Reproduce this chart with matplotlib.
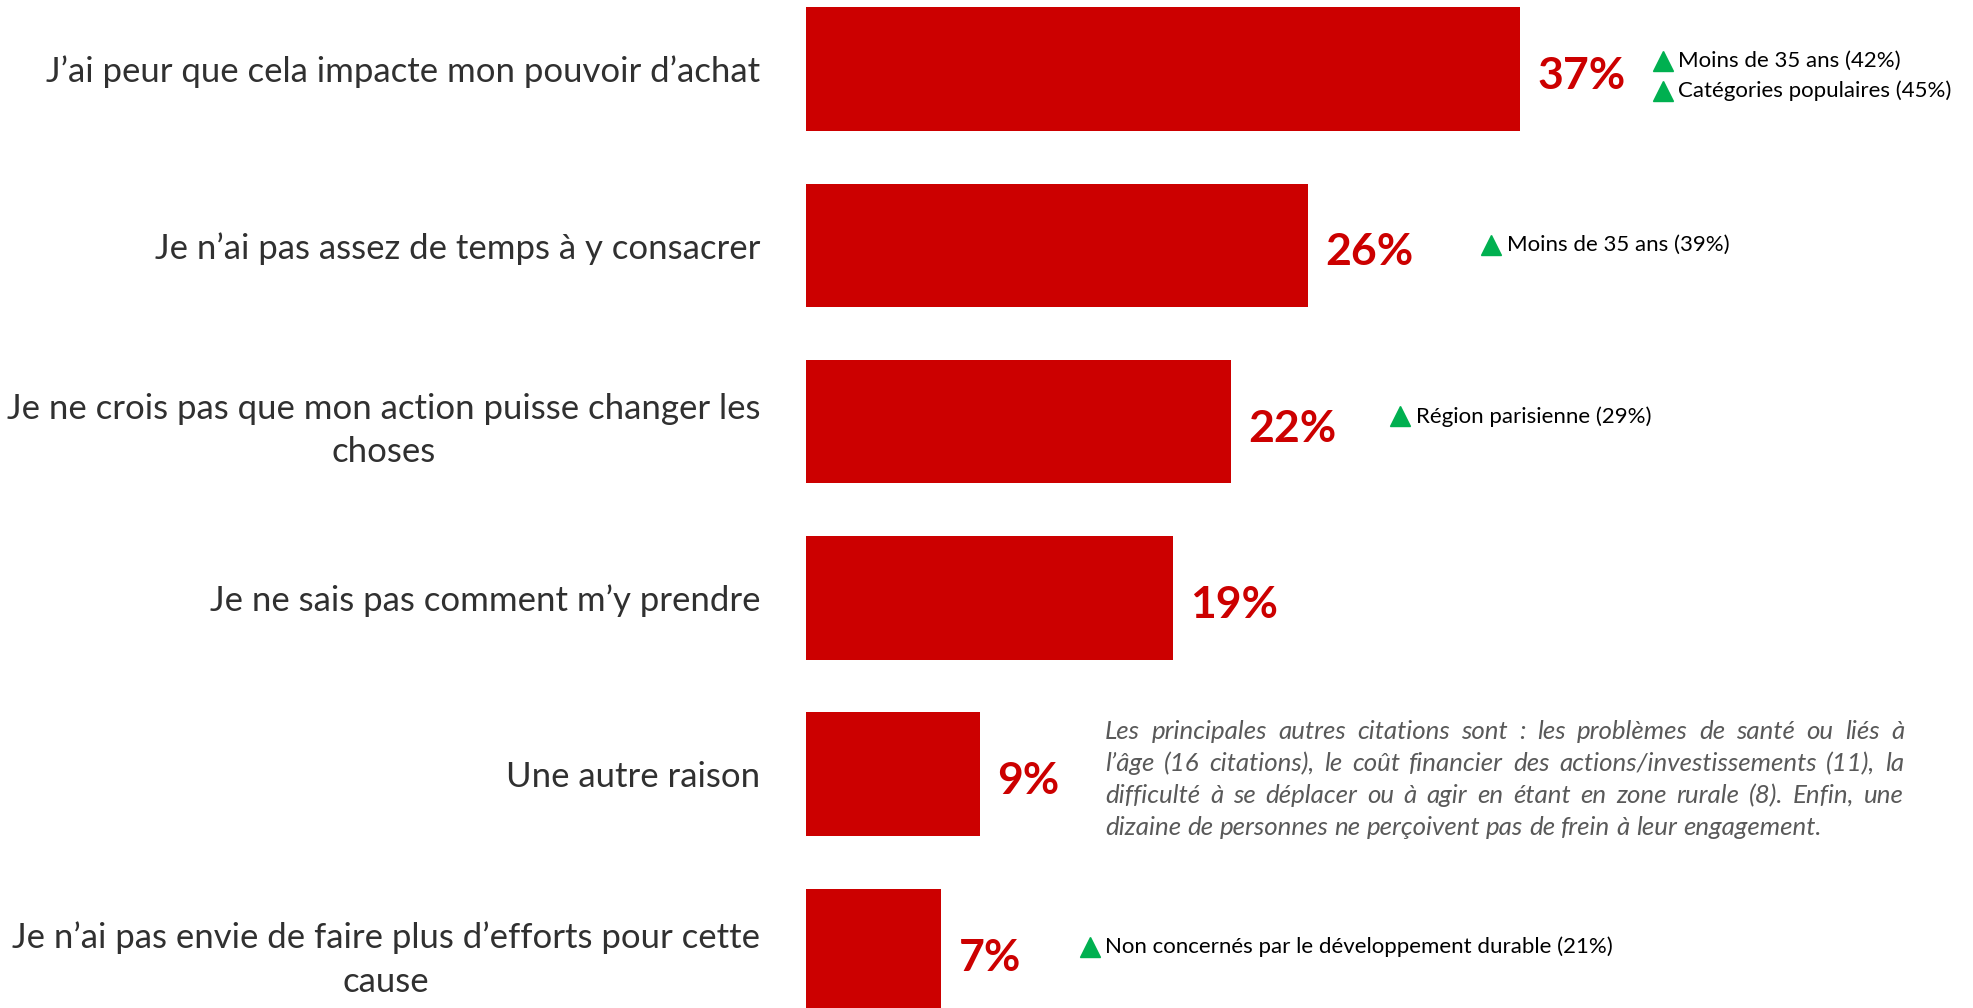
import matplotlib
matplotlib.use("Agg")
import matplotlib.pyplot as plt

# ---- data ----
categories = [
    "J\u2019ai peur que cela impacte mon pouvoir d\u2019achat",
    "Je n\u2019ai pas assez de temps \u00e0 y consacrer",
    "Je ne crois pas que mon action puisse changer les\nchoses",
    "Je ne sais pas comment m\u2019y prendre",
    "Une autre raison",
    "Je n\u2019ai pas envie de faire plus d\u2019efforts pour cette\ncause",
]
values = [37, 26, 22, 19, 9, 7]
value_labels = ["37%", "26%", "22%", "19%", "9%", "7%"]
highlights = [
    ["Moins de 35 ans (42%)", "Cat\u00e9gories populaires (45%)"],
    ["Moins de 35 ans (39%)"],
    ["R\u00e9gion parisienne (29%)"],
    [],
    [],
    ["Non concern\u00e9s par le d\u00e9veloppement durable (21%)"],
]
note_lines = [
    "Les principales autres citations sont : les probl\u00e8mes de sant\u00e9 ou li\u00e9s \u00e0",
    "l\u2019\u00e2ge (16 citations), le co\u00fbt financier des actions/investissements (11), la",
    "difficult\u00e9 \u00e0 se d\u00e9placer ou \u00e0 agir en \u00e9tant en zone rurale (8). Enfin, une",
    "dizaine de personnes ne per\u00e7oivent pas de frein \u00e0 leur engagement.",
]

# ---- layout / style ----
FONT = "Lato"
RED = "#CC0000"
GREEN = "#00B050"
TXT = "#303030"
NOTE_C = "#595959"
hl_x = [44.4, 35.5, 30.8, None, None, 14.7]
hl_dy = [[-0.045, 0.125], [0.0], [-0.03], [], [], [-0.02]]
note_row = 4
note_x = 15.5
note_w_px = 799
note_spacing_px = 32

W, H = 1974, 1008
fig = plt.figure(figsize=(W / 100, H / 100), dpi=100)
ax = fig.add_axes([806 / W, 0, 1158 / W, 1])
ypos = list(range(len(categories)))
ax.barh(ypos, values, height=0.7, color=RED)
ax.set_xlim(0, 60)
ax.set_ylim(5.326, -0.391)
ax.set_yticks(ypos)
ax.set_yticklabels(categories, fontsize=25, family=FONT, color=TXT,
                   multialignment="center", linespacing=1.45)
ax.tick_params(axis="y", length=0, pad=33)
ax.set_xticks([])
for s in ax.spines.values():
    s.set_visible(False)

for y, v, lab in zip(ypos, values, value_labels):
    ax.text(v + 0.9, y + 0.04, lab, ha="left", va="center", fontsize=32,
            fontweight="bold", color=RED, family=FONT)

for y, hx, items, dys in zip(ypos, hl_x, highlights, hl_dy):
    for txt, dy in zip(items, dys):
        ax.plot([hx], [y + dy], marker="^", ms=15, color=GREEN,
                ls="none", clip_on=False)
        ax.text(hx + 0.8, y + dy, txt, ha="left", va="center", fontsize=16,
                family=FONT, color="black")

# justified italic note
fig.canvas.draw()
r = fig.canvas.get_renderer()
x0 = ax.transData.transform((note_x, 0))[0]
yc = ax.transData.transform((0, note_row))[1] - 5
nfs = 18.6

def wwidth(s):
    t = fig.text(0, 0, s, fontsize=nfs, family=FONT, style="italic")
    w = t.get_window_extent(r).width
    t.remove()
    return w

space_w = wwidth("a a") - wwidth("aa")
n = len(note_lines)
for i, line in enumerate(note_lines):
    ly = yc + ((n - 1) / 2 - i) * note_spacing_px
    words = line.split(" ")
    widths = [wwidth(w) for w in words]
    if i < n - 1 and len(words) > 1:
        gap = (note_w_px - sum(widths)) / (len(words) - 1)
    else:
        gap = space_w
    x = x0
    for w, ww in zip(words, widths):
        fig.text(x / W, ly / H, w, fontsize=nfs, family=FONT, style="italic",
                 color=NOTE_C, ha="left", va="center")
        x += ww + gap

fig.savefig("out.png", dpi=100)
